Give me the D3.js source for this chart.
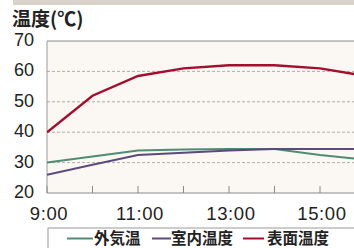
<!DOCTYPE html>
<html>
<head>
<meta charset="utf-8">
<script src="https://cdn.jsdelivr.net/npm/d3@7"></script>
<style>
body { margin: 0; background: #fff; }
svg { display: block; }
</style>
</head>
<body>
<svg id="chart" width="354" height="248"></svg>
<script>
var hours = [9, 10, 11, 12, 13, 14, 15, 16];
var tickHours = [9, 10, 11, 12, 13, 14, 15, 16];
var labelHours = [9, 11, 13, 15];
var yTicks = [20, 30, 40, 50, 60, 70];
var outside = [30, 32, 34, 34.3, 34.5, 34.5, 32.5, 31];
var indoor = [26, 29.3, 32.5, 33.2, 34, 34.5, 34.5, 34.5];
var surface = [40, 52, 58.5, 61, 62, 62, 61, 58.5];
var seriesNames = ["外気温", "室内温度", "表面温度"];
var seriesColors = ["#4f8c74", "#5b4a7c", "#a50d2f"];

var svg = d3.select("#chart");
var fontNum = "'Liberation Sans', Arial, sans-serif";
var fontJa = "'Noto Sans CJK JP', sans-serif";

var x = d3.scaleLinear().domain([9, 16]).range([47, 365.5]);
var y = d3.scaleLinear().domain([20, 70]).range([193, 41]);

// top band
svg.append("rect").attr("x", 13).attr("y", 0).attr("width", 341).attr("height", 5).attr("fill", "#d9d2ca");

// plot background
svg.append("rect").attr("x", x(9)).attr("y", y(70)).attr("width", x(16) - x(9)).attr("height", y(20) - y(70))
    .attr("fill", "#fbf7f2");

// grid lines
svg.selectAll("line.grid").data([30, 40, 50, 60]).enter().append("line")
    .attr("class", "grid")
    .attr("x1", x(9)).attr("x2", x(16))
    .attr("y1", function(d) { return y(d); }).attr("y2", function(d) { return y(d); })
    .attr("stroke", "#9a9a9a").attr("stroke-width", 0.8).attr("stroke-dasharray", "3,2");

// frame
svg.append("line").attr("x1", x(9)).attr("x2", x(16)).attr("y1", y(70)).attr("y2", y(70))
    .attr("stroke", "#8a8a8a").attr("stroke-width", 1);
svg.append("line").attr("x1", x(9)).attr("x2", x(9)).attr("y1", y(70)).attr("y2", y(20))
    .attr("stroke", "#9a9a9a").attr("stroke-width", 1);
svg.append("line").attr("x1", x(9)).attr("x2", x(16)).attr("y1", y(20)).attr("y2", y(20))
    .attr("stroke", "#8a8a8a").attr("stroke-width", 1);

// x ticks (inside, upward)
svg.selectAll("line.tick").data(tickHours).enter().append("line")
    .attr("class", "tick")
    .attr("x1", function(d) { return x(d); }).attr("x2", function(d) { return x(d); })
    .attr("y1", y(20)).attr("y2", y(20) - 7)
    .attr("stroke", "#8a8a8a").attr("stroke-width", 1);

// x labels
svg.selectAll("text.xl").data(labelHours).enter().append("text")
    .attr("class", "xl")
    .attr("x", function(d) { return x(d) + 2; }).attr("y", 220)
    .attr("text-anchor", "middle")
    .attr("font-family", fontNum).attr("font-size", "18.5px").attr("letter-spacing", "0.6px").attr("fill", "#222")
    .text(function(d) { return d + ":00"; });

// y labels
svg.selectAll("text.yl").data(yTicks).enter().append("text")
    .attr("class", "yl")
    .attr("x", 34).attr("y", function(d) { return y(d) + 5; })
    .attr("text-anchor", "end")
    .attr("font-family", fontNum).attr("font-size", "18px").attr("fill", "#222")
    .text(function(d) { return d; });

// title
svg.append("text").attr("x", 12).attr("y", 26)
    .attr("font-family", fontJa).attr("font-size", "19px").attr("font-weight", "bold").attr("fill", "#222")
    .text("温度(℃)");

// lines
var line = d3.line()
    .x(function(d, i) { return x(hours[i]); })
    .y(function(d) { return y(d); });

svg.append("clipPath").attr("id", "clip").append("rect")
    .attr("x", x(9)).attr("y", y(70)).attr("width", x(16) - x(9)).attr("height", y(20) - y(70));

[outside, indoor, surface].forEach(function(s, i) {
    svg.append("path").datum(s)
        .attr("d", line)
        .attr("fill", "none")
        .attr("stroke", seriesColors[i])
        .attr("stroke-width", i === 2 ? 2.4 : 2)
        .attr("clip-path", "url(#clip)");
});

// legend
svg.append("rect").attr("x", 48).attr("y", 228).attr("width", 320).attr("height", 30)
    .attr("fill", "#fff").attr("stroke", "#9a9a9a").attr("stroke-width", 1);

var legendX = [[67, 93, 94], [152, 171, 171], [243, 264, 267]];
seriesNames.forEach(function(n, i) {
    svg.append("line")
        .attr("x1", legendX[i][0]).attr("x2", legendX[i][1])
        .attr("y1", 238.5).attr("y2", 238.5)
        .attr("stroke", seriesColors[i]).attr("stroke-width", 2);
    svg.append("text")
        .attr("x", legendX[i][2]).attr("y", 244)
        .attr("font-family", fontJa).attr("font-size", "15.5px").attr("font-weight", "bold").attr("fill", "#222")
        .text(n);
});
</script>
</body>
</html>
